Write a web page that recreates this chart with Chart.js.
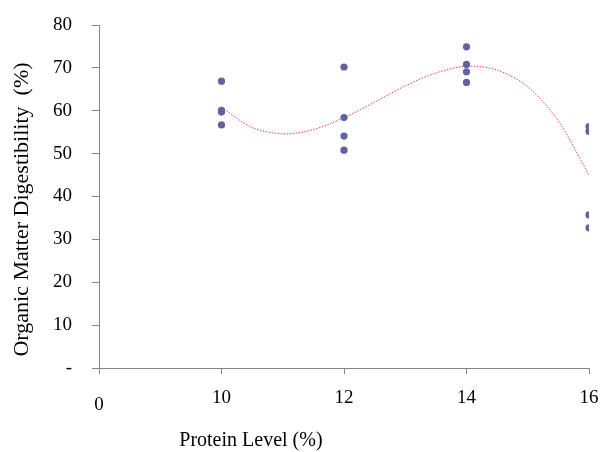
<!DOCTYPE html>
<html>
<head>
<meta charset="utf-8">
<script src="https://cdn.jsdelivr.net/npm/chart.js@4/dist/chart.umd.min.js"></script>
<style>
  html, body { margin: 0; padding: 0; background: #ffffff; }
  #wrap { width: 604px; height: 452px; position: relative; }
</style>
</head>
<body>
<div id="wrap"><canvas id="c" width="604" height="452"></canvas></div>
<script>
// Tick labels of the x axis (equally spaced categories)
const proteinLabels = ['0', '10', '12', '14', '16'];
// Category positions of the four protein levels
const groupPos = [1, 2, 3, 4];
// Organic matter digestibility (%) observations per protein level
const omd10 = [66.9, 60.1, 59.7, 56.7];
const omd12 = [70.2, 58.4, 54.1, 50.8];
const omd14 = [74.9, 70.8, 69.1, 66.6];
const omd16 = [56.3, 55.2, 35.7, 32.7];
// Trend line
const trendX = [1, 1.25, 1.5, 1.75, 2, 2.25, 2.5, 2.75, 3, 3.25, 3.5, 3.75, 4];
const trendY = [60.8, 56.1, 54.6, 55.6, 58.4, 62.0, 65.8, 68.8, 70.4, 69.5, 65.6, 57.6, 45.0];
// Y tick values
const yTicks = [0, 10, 20, 30, 40, 50, 60, 70, 80];

const groups = [omd10, omd12, omd14, omd16];
const points = [];
groups.forEach((g, gi) => g.forEach(v => points.push({ x: groupPos[gi], y: v })));
const trend = trendX.map((x, i) => ({ x: x, y: trendY[i] }));

const FONT = 'Liberation Serif';
const AXIS = '#868686';

function noPad(scale) {
  scale.paddingTop = 0;
  scale.paddingBottom = 0;
  scale.paddingLeft = 0;
  scale.paddingRight = 0;
}

const textPlugin = {
  id: 'extraText',
  afterDraw(chart) {
    const ctx = chart.ctx;
    const xs = chart.scales.x;
    const ys = chart.scales.y;
    ctx.save();
    ctx.fillStyle = '#000';
    ctx.textAlign = 'center';
    ctx.textBaseline = 'middle';
    ctx.font = '19px "' + FONT + '"';
    // "0" label sits lower than the other x labels
    ctx.fillText(proteinLabels[0], xs.getPixelForValue(0), ys.bottom + 37);
    // x axis title
    ctx.font = '20px "' + FONT + '"';
    ctx.fillText('Protein Level (%)', xs.getPixelForValue(1.24), ys.bottom + 73);
    // y axis title
    ctx.font = '22px "' + FONT + '"';
    ctx.translate(22, (ys.top + ys.bottom) / 2 + 13);
    ctx.rotate(-Math.PI / 2);
    ctx.fillText('Organic Matter Digestibility  (%)', 0, 0);
    ctx.restore();
  }
};

new Chart(document.getElementById('c'), {
  type: 'scatter',
  data: {
    datasets: [
      {
        label: 'Trend',
        type: 'line',
        data: trend,
        borderColor: 'rgba(240,40,40,0.9)',
        borderWidth: 1,
        borderDash: [1.5, 1.5],
        pointRadius: 0,
        fill: false,
        tension: 0.3,
        order: 2
      },
      {
        label: 'OMD',
        data: points,
        backgroundColor: '#62629c',
        borderColor: '#62629c',
        pointRadius: 3.6,
        borderWidth: 0,
        order: 1
      }
    ]
  },
  options: {
    responsive: false,
    animation: false,
    devicePixelRatio: 1,
    layout: { padding: { top: 25, right: 15, left: 0, bottom: 0 } },
    plugins: { legend: { display: false }, tooltip: { enabled: false } },
    scales: {
      x: {
        type: 'linear',
        min: 0, max: 4,
        afterFit(scale) { scale.height = 84; noPad(scale); },
        afterBuildTicks(scale) { scale.ticks = proteinLabels.map((_, i) => ({ value: i })); },
        ticks: {
          font: { family: FONT, size: 19 },
          color: '#000',
          padding: 13,
          maxRotation: 0,
          autoSkip: false,
          callback: (v) => (v === 0 ? '' : proteinLabels[v])
        },
        grid: { display: true, drawOnChartArea: false, drawTicks: true, tickLength: 6, color: AXIS, lineWidth: 1 },
        border: { display: true, color: AXIS, width: 1 }
      },
      y: {
        min: 0, max: 80,
        afterFit(scale) { scale.width = 99; noPad(scale); },
        afterBuildTicks(scale) { scale.ticks = yTicks.map(v => ({ value: v })); },
        ticks: {
          font: { family: FONT, size: 19 },
          color: '#000',
          padding: 20,
          callback: (v) => (v === 0 ? '-' : String(v))
        },
        grid: { display: true, drawOnChartArea: false, drawTicks: true, tickLength: 7, color: AXIS, lineWidth: 1 },
        border: { display: true, color: AXIS, width: 1 }
      }
    }
  },
  plugins: [textPlugin]
});
</script>
</body>
</html>
